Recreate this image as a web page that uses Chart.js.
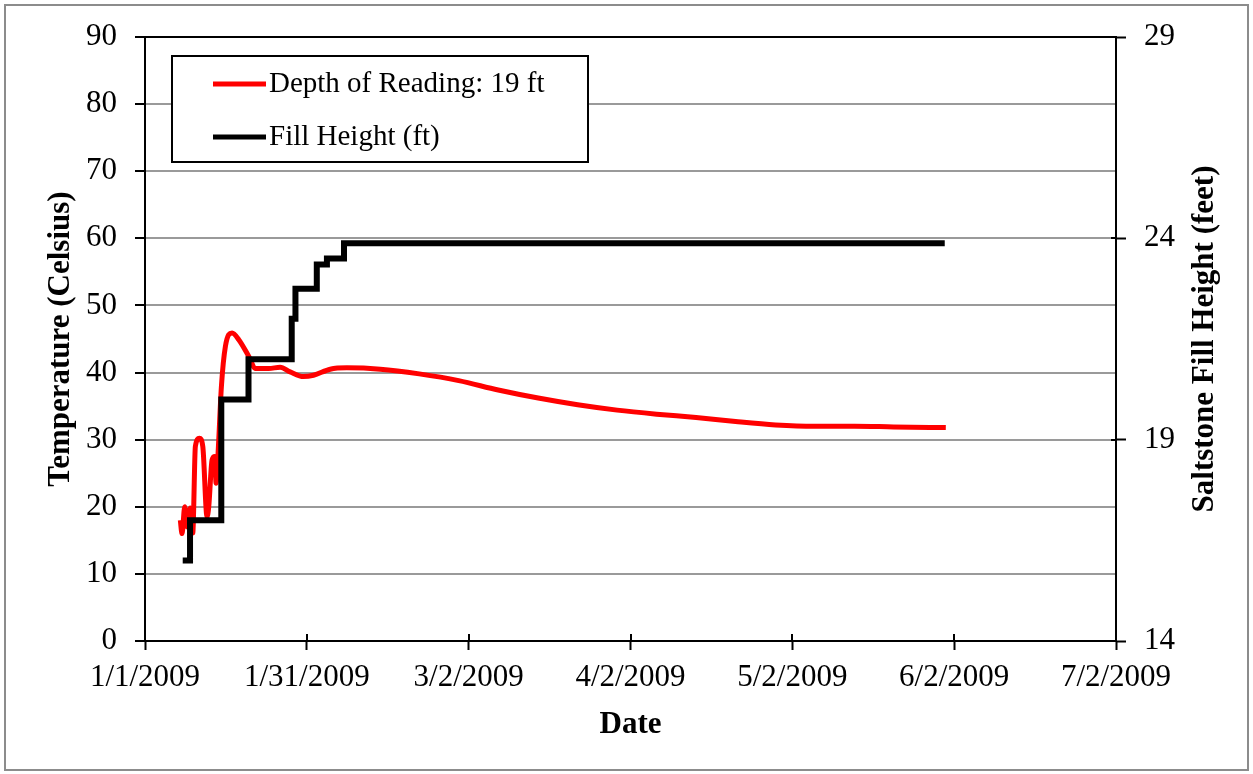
<!DOCTYPE html>
<html>
<head>
<meta charset="utf-8">
<script src="https://cdn.jsdelivr.net/npm/chart.js@4/dist/chart.umd.min.js"></script>
<style>
  body { margin: 0; background: #fff; }
  #chart { display: block; }
</style>
</head>
<body>
<canvas id="chart" width="1253" height="774"></canvas>
<script>
// days since 1/1/2009
const tempDays = [6.62, 6.94, 7.45, 7.88, 8.5, 8.95, 9.44, 10.19, 10.83, 11.63, 11.95, 12.57, 13.08, 13.32, 13.7,
  14.32, 15.07, 16.32, 17.58, 19.46, 20.7, 23.2, 25.33, 27.2, 29.7, 31.58, 34.71, 37.84, 44.1, 51.4, 58.8,
  66.2, 73.7, 81.1, 88.5, 95.9, 103.3, 110.7, 118.2, 125.5, 133.0, 140.3, 150.1];
const tempValues = [18.0, 16.0, 20.0, 17.0, 19.8, 16.1, 29.0, 30.2, 29.0, 18.5, 20.0, 27.0, 27.5, 23.5, 28.0,
  37.9, 43.9, 45.9, 44.9, 42.4, 40.6, 40.6, 40.8, 40.1, 39.4, 39.6, 40.5, 40.7, 40.5, 39.8, 38.8,
  37.4, 36.2, 35.2, 34.4, 33.8, 33.3, 32.7, 32.2, 32.0, 32.0, 31.9, 31.8];

const fillDays = [7.07, 8.44, 14.3, 19.4, 27.5, 28.2, 32.2, 34.1, 37.3, 149.9];
const fillHeights = [16.0, 17.0, 20.0, 21.0, 22.0, 22.75, 23.35, 23.5, 23.88, 23.88];

const xTickLabels = ['1/1/2009', '1/31/2009', '3/2/2009', '4/2/2009', '5/2/2009', '6/2/2009', '7/2/2009'];
const rightTitle = 'Saltstone Fill Height (feet)';

const serif = "'Times New Roman', 'Liberation Serif', serif";

const frame = {
  id: 'frame',
  beforeDraw(chart) {
    const ctx = chart.ctx;
    ctx.save();
    ctx.fillStyle = '#fff';
    ctx.fillRect(0, 0, chart.width, chart.height);
    ctx.strokeStyle = '#8c8c8c';
    ctx.lineWidth = 2;
    ctx.strokeRect(5, 5, chart.width - 10, chart.height - 9);
    ctx.restore();
  },
  afterDraw(chart) {
    const ctx = chart.ctx;
    const area = chart.chartArea;
    ctx.save();

    // inner halves of the crossing tick marks
    ctx.strokeStyle = '#000';
    ctx.lineWidth = 2;
    chart.scales.x.ticks.forEach(t => {
      const px = Math.round(chart.scales.x.getPixelForValue(t.value));
      ctx.beginPath();
      ctx.moveTo(px, area.bottom);
      ctx.lineTo(px, area.bottom - 7);
      ctx.stroke();
    });
    chart.scales.y1.ticks.forEach(t => {
      const py = Math.round(chart.scales.y1.getPixelForValue(t.value));
      ctx.beginPath();
      ctx.moveTo(area.right, py);
      ctx.lineTo(area.right - 5, py);
      ctx.stroke();
    });

    // right axis title, reading bottom to top
    ctx.translate(1205, (area.top + area.bottom) / 2);
    ctx.rotate(-Math.PI / 2);
    ctx.fillStyle = '#000';
    ctx.font = 'bold 31px ' + serif;
    ctx.textAlign = 'center';
    ctx.textBaseline = 'middle';
    ctx.fillText(rightTitle, 0, 0);
    ctx.setTransform(1, 0, 0, 1, 0, 0);

    // legend box
    ctx.fillStyle = '#fff';
    ctx.fillRect(172, 56, 416, 106);
    ctx.strokeStyle = '#000';
    ctx.lineWidth = 2;
    ctx.strokeRect(172, 56, 416, 106);
    chart.data.datasets.forEach((ds, i) => {
      const y = 84 + i * 53;
      ctx.strokeStyle = ds.borderColor;
      ctx.lineWidth = 5;
      ctx.beginPath();
      ctx.moveTo(213, y);
      ctx.lineTo(266, y);
      ctx.stroke();
      ctx.fillStyle = '#000';
      ctx.font = '29px ' + serif;
      ctx.textAlign = 'left';
      ctx.textBaseline = 'middle';
      ctx.fillText(ds.label, 269, y);
    });
    ctx.restore();
  }
};

new Chart(document.getElementById('chart'), {
  type: 'line',
  data: {
    datasets: [{
      label: 'Depth of Reading: 19 ft',
      data: tempDays.map((d, i) => ({ x: d, y: tempValues[i] })),
      borderColor: '#ff0000',
      borderWidth: 5,
      pointRadius: 0,
      cubicInterpolationMode: 'monotone',
      yAxisID: 'y',
      order: 1
    }, {
      label: 'Fill Height (ft)',
      data: fillDays.map((d, i) => ({ x: d, y: fillHeights[i] })),
      borderColor: '#000000',
      borderWidth: 6,
      pointRadius: 0,
      stepped: 'before',
      yAxisID: 'y1',
      order: 0
    }]
  },
  options: {
    responsive: false,
    animation: false,
    layout: { padding: { top: 37, left: 0, right: 0, bottom: 0 } },
    plugins: { legend: { display: false }, tooltip: { enabled: false } },
    scales: {
      x: {
        type: 'linear',
        min: 0,
        max: 182,
        afterBuildTicks: scale => {
          scale.ticks = xTickLabels.map((t, i) => ({ value: scale.min + i * (scale.max - scale.min) / (xTickLabels.length - 1) }));
        },
        afterFit: scale => { scale.height = 133; },
        ticks: {
          callback: (v, i) => xTickLabels[i],
          color: '#000',
          font: { family: serif, size: 31 },
          padding: 9,
          maxRotation: 0,
          autoSkip: false
        },
        grid: { drawOnChartArea: false, tickLength: 9, tickColor: '#000', tickWidth: 2 },
        border: { color: '#000', width: 2 },
        title: {
          display: true,
          text: 'Date',
          color: '#000',
          font: { family: serif, size: 31, weight: 'bold' },
          padding: { top: 30, bottom: 30 }
        }
      },
      y: {
        position: 'left',
        min: 0,
        max: 90,
        afterFit: scale => { scale.width = 145; },
        ticks: {
          stepSize: 10,
          color: '#000',
          font: { family: serif, size: 31 },
          padding: 18
        },
        grid: {
          color: ctx => ctx.tick && ctx.tick.value === 90 ? '#000' : '#9a9a9a',
          lineWidth: 2,
          tickLength: 10,
          tickColor: '#000',
          tickWidth: 2
        },
        border: { color: '#000', width: 2 },
        title: {
          display: true,
          text: 'Temperature (Celsius)',
          color: '#000',
          font: { family: serif, size: 31, weight: 'bold' },
          padding: { top: 42, bottom: 42 }
        }
      },
      y1: {
        position: 'right',
        min: 14,
        max: 29,
        afterFit: scale => { scale.width = 137; },
        ticks: {
          stepSize: 5,
          color: '#000',
          font: { family: serif, size: 31 },
          padding: 18
        },
        grid: { drawOnChartArea: false, tickLength: 10, tickColor: '#000', tickWidth: 2 },
        border: { color: '#000', width: 2 },
        title: { display: false }
      }
    }
  },
  plugins: [frame]
});
</script>
</body>
</html>
